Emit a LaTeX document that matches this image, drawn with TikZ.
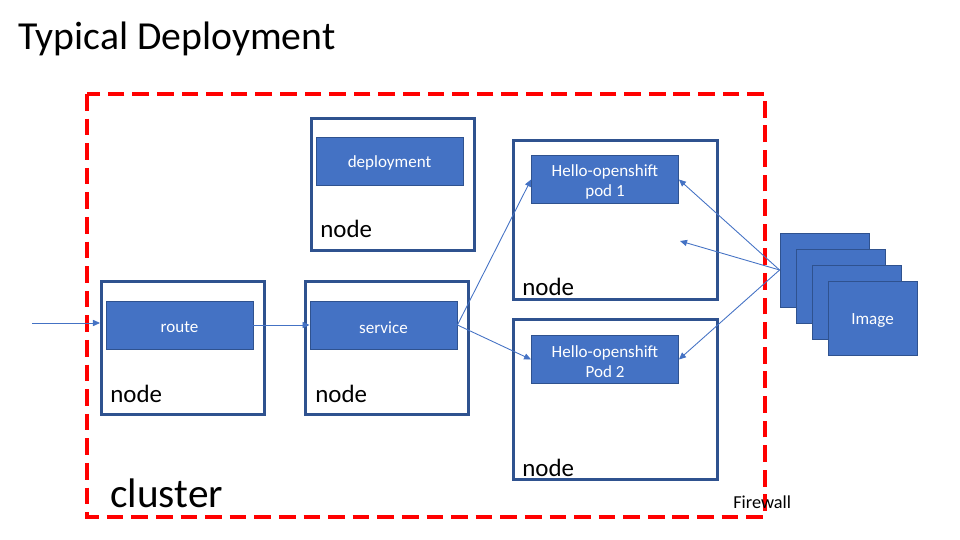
\documentclass[tikz,border=0pt]{standalone}
\usepackage{fontspec}
\setmainfont{Carlito}
\usetikzlibrary{arrows.meta}

\definecolor{podfill}{RGB}{68,114,196}
\definecolor{hostedge}{RGB}{47,82,143}
\definecolor{fwred}{RGB}{255,0,0}

\newcommand{\lowtxt}[1]{\raisebox{-1.3pt}[\height][\depth]{#1}}

\begin{document}
\begin{tikzpicture}[x=0.02cm,y=-0.02cm,
	hostbox/.style={draw=hostedge,line width=1.7pt,minimum width=3.26cm,minimum height=2.66cm,inner sep=0},
	wide/.style={minimum width=4.08cm,minimum height=3.2cm},
	podbox/.style={draw=hostedge,line width=0.5pt,fill=podfill,text=white,minimum width=2.94cm,minimum height=0.96cm,inner sep=0,align=center,font=\fontsize{9.7}{11.5}\selectfont},
	imgbox/.style={podbox,minimum width=1.78cm,minimum height=1.48cm},
	hostlbl/.style={anchor=base west,inner sep=0,font=\fontsize{14.2}{17}\selectfont},
	link/.style={draw=podfill,line width=0.5pt,-{Triangle[length=4pt,width=3.5pt]}}]
	\useasboundingbox (0,0) rectangle (960,540);
	
	\node [anchor=base west,inner sep=0,font=\fontsize{22.6}{26}\selectfont] (title) at (18,50) {Typical Deployment};
	
	\draw [fwred,line width=2.3pt,dash pattern=on 9.5pt off 4.5pt] (87,94) rectangle (765,517);
	\node [anchor=base west,inner sep=0,font=\fontsize{23.5}{28}\selectfont] (clusterlbl) at (110,507) {cluster};
	\node [anchor=base west,inner sep=0,font=\fontsize{10.4}{12}\selectfont] (firewall) at (733,508) {Firewall};
	
	\node [hostbox] (routehost) at (183,348) {};
	\node [hostbox] (servicehost) at (387,348) {};
	\node [hostbox] (deployhost) at (393,184.5) {};
	\node [hostbox,wide] (pod1host) at (615.5,220) {};
	\node [hostbox,wide] (pod2host) at (615.5,399.5) {};
	
	\node [hostlbl] (routelbl) at (110,402) {node};
	\node [hostlbl] (servicelbl) at (315,402) {node};
	\node [hostlbl] (deploylbl) at (320,238) {node};
	\node [hostlbl] (pod1lbl) at (522,296) {node};
	\node [hostlbl] (pod2lbl) at (522,476) {node};
	
	\node [podbox] (route) at (179.5,325) {\lowtxt{route}};
	\node [podbox] (service) at (383.5,325) {\lowtxt{service}};
	\node [podbox] (deployment) at (389.5,161) {\lowtxt{deployment}};
	\node [podbox] (pod1) at (605,179.5) {\lowtxt{Hello-openshift}\\\lowtxt{pod 1}};
	\node [podbox] (pod2) at (605,359.5) {\lowtxt{Hello-openshift}\\\lowtxt{Pod 2}};
	
	\node [imgbox] (img1) at (824.5,270) {};
	\node [imgbox] (img2) at (840.5,286) {};
	\node [imgbox] (img3) at (856.5,302) {};
	\node [imgbox] (img4) at (872.5,318) {\lowtxt{Image}};
	
	\coordinate (entry) at (32,323);
	\coordinate (spare) at (680,241);
	
	\draw [link] (entry) -- (routehost.west |- entry);
	\draw [link] (route.east) -- (service.west);
	\draw [link] (service.east) -- (pod1.west);
	\draw [link] (service.east) -- (pod2.west);
	\draw [link] (img1.west) -- (pod1.east);
	\draw [link] (img1.west) -- (spare);
	\draw [link] (img1.west) -- (pod2.east);
\end{tikzpicture}
\end{document}
